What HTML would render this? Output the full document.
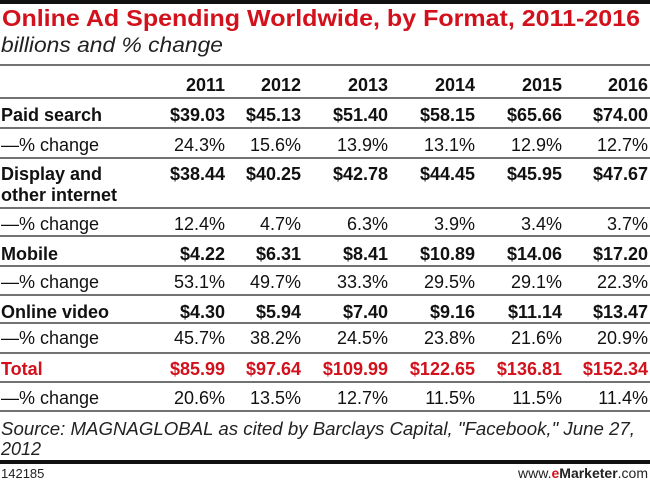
<!DOCTYPE html>
<html><head><meta charset="utf-8"><style>
body{margin:0;background:#fff}
svg{display:block;font-family:"Liberation Sans",sans-serif}
</style></head><body>
<svg width="650" height="485" viewBox="0 0 650 485">
<rect x="0" y="0" width="650" height="4" fill="#111"/>
<text x="2" y="26" font-size="23" font-weight="bold" fill="#d2111c" textLength="638" lengthAdjust="spacingAndGlyphs">Online Ad Spending Worldwide, by Format, 2011-2016</text>
<text x="1" y="52" font-size="21" font-style="italic" fill="#222" textLength="222" lengthAdjust="spacingAndGlyphs">billions and % change</text>
<g id="lines" stroke="#444" stroke-width="1.5"></g>
<g id="cells"></g>
<text x="1" y="435" font-size="18" font-style="italic" fill="#222" textLength="634" lengthAdjust="spacingAndGlyphs">Source: MAGNAGLOBAL as cited by Barclays Capital, "Facebook," June 27,</text>
<text x="1" y="455" font-size="18" font-style="italic" fill="#222">2012</text>
<rect x="0" y="460" width="650" height="4" fill="#111"/>
<text x="1" y="478" font-size="13" fill="#222">142185</text>
<text x="648" y="478" font-size="14" fill="#222" text-anchor="end">www.<tspan fill="#d2111c" font-weight="bold">e</tspan><tspan font-weight="bold">Marketer</tspan>.com</text>
</svg>
<script>
const years=["2011","2012","2013","2014","2015","2016"];
const paidSearch=["$39.03","$45.13","$51.40","$58.15","$65.66","$74.00"];
const paidSearchChg=["24.3%","15.6%","13.9%","13.1%","12.9%","12.7%"];
const display=["$38.44","$40.25","$42.78","$44.45","$45.95","$47.67"];
const displayChg=["12.4%","4.7%","6.3%","3.9%","3.4%","3.7%"];
const mobile=["$4.22","$6.31","$8.41","$10.89","$14.06","$17.20"];
const mobileChg=["53.1%","49.7%","33.3%","29.5%","29.1%","22.3%"];
const video=["$4.30","$5.94","$7.40","$9.16","$11.14","$13.47"];
const videoChg=["45.7%","38.2%","24.5%","23.8%","21.6%","20.9%"];
const total=["$85.99","$97.64","$109.99","$122.65","$136.81","$152.34"];
const totalChg=["20.6%","13.5%","12.7%","11.5%","11.5%","11.4%"];

const NS="http://www.w3.org/2000/svg";
const colRight=[225,301,388,475,562,648];
const cells=document.getElementById('cells');
const lines=document.getElementById('lines');
function txt(x,y,s,opt){
  const t=document.createElementNS(NS,'text');
  t.setAttribute('x',x);t.setAttribute('y',y);
  t.setAttribute('font-size',opt.size);
  if(opt.bold)t.setAttribute('font-weight','bold');
  t.setAttribute('fill',opt.color||'#111');
  if(opt.end)t.setAttribute('text-anchor','end');
  t.textContent=s;
  
  
  cells.appendChild(t);
}
const rows=[
 {label:["Paid search"],vals:paidSearch,y:121,bold:true,name:'paid-search'},
 {label:["—% change"],vals:paidSearchChg,y:151,name:'paid-search-change'},
 {label:["Display and","other internet"],vals:display,y:180,bold:true,name:'display'},
 {label:["—% change"],vals:displayChg,y:230,name:'display-change'},
 {label:["Mobile"],vals:mobile,y:260,bold:true,name:'mobile'},
 {label:["—% change"],vals:mobileChg,y:288,name:'mobile-change'},
 {label:["Online video"],vals:video,y:318,bold:true,name:'online-video'},
 {label:["—% change"],vals:videoChg,y:344,name:'online-video-change'},
 {label:["Total"],vals:total,y:375,bold:true,red:true,name:'total'},
 {label:["—% change"],vals:totalChg,y:404,name:'total-change'}
];
years.forEach((y,i)=>txt(colRight[i],91,y,{size:18,bold:true,end:true,name:'year-header-'+y}));
rows.forEach(r=>{
  const color=r.red?'#d2111c':'#111';
  const size=18;
  r.label.forEach((l,j)=>txt(1,r.y+j*21,l,{size:size,bold:r.bold,color:color,name:r.name+'-label'}));
  r.vals.forEach((v,i)=>txt(colRight[i],r.y,v,{size:size,bold:r.bold,color:color,end:true,name:r.name+'-'+years[i]}));
});
const lineYs=[65,98,128,158,208,236,266,295,323,353,382,411];
lineYs.forEach((y,i)=>{
  const l=document.createElementNS(NS,'line');
  l.setAttribute('x1',0);l.setAttribute('x2',650);
  l.setAttribute('y1',y);l.setAttribute('y2',y);
  
  
  lines.appendChild(l);
});
</script>
</body></html>
